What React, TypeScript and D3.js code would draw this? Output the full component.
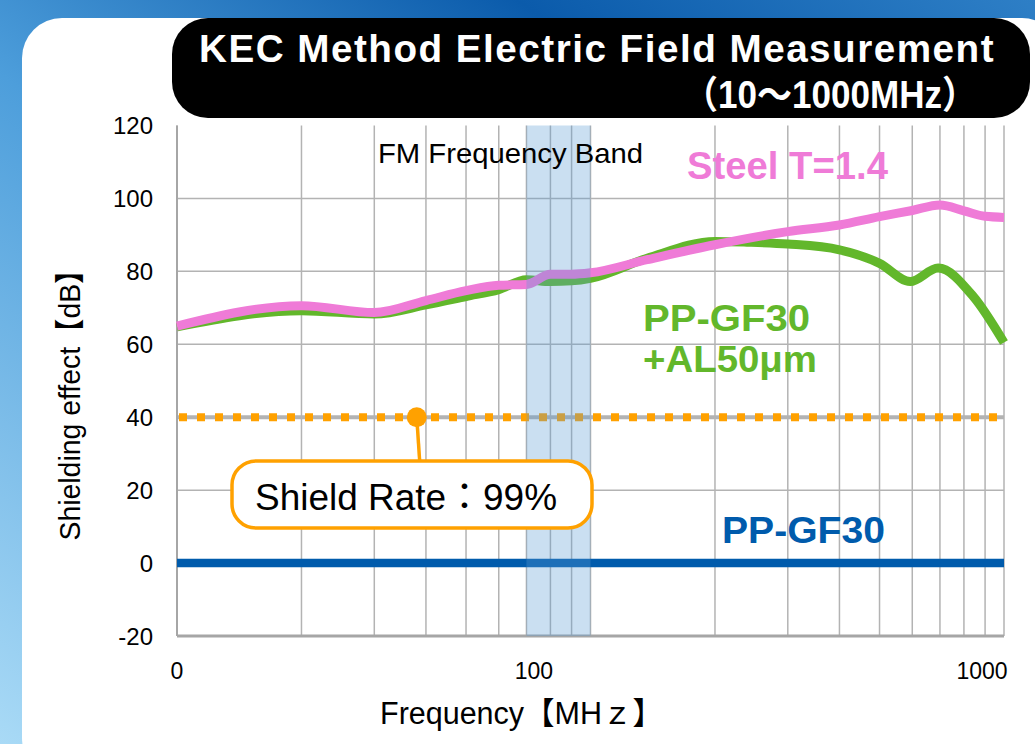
import React from 'react';
import * as d3 from 'd3';

// ---- data ----
const steelFreq = [10, 20, 30, 40, 50, 60, 70, 80, 90, 100, 137, 200, 300, 400, 500, 600, 700, 800, 900, 1000];
const steelDb = [65, 70.6, 68.7, 72, 74.7, 76.2, 76.4, 79.2, 79.2, 79.6, 83.2, 87.3, 90.9, 92.7, 95.0, 96.7, 98.2, 96.6, 95.1, 94.8];

const alFreq = [10, 20, 30, 40, 50, 60, 70, 80, 90, 100, 137, 200, 239, 300, 400, 500, 593, 693, 843, 1000];
const alDb = [64.8, 69.2, 68.3, 70.8, 73.1, 75, 77.7, 77.2, 77.4, 78.1, 83.6, 88.2, 88.0, 87.5, 85.9, 82.2, 77.2, 80.9, 73.1, 60.5];

const ppFreq = [10, 1000];
const ppDb = [0, 0];

const shieldRateDb = 40;
const shieldMarkFreq = 38;
const fmBand = [70, 100];

const yTicks = [-20, 0, 20, 40, 60, 80, 100, 120];
// the pasted tick labels sit where they sit in the picture
const xTickAt = [10, 73, 885];
const xTickText = ['0', '100', '1000'];

const COLORS = {
  steel: '#EF7BD7',
  al: '#62B72B',
  pp: '#005BAC',
  orange: '#FFA100',
  grid: '#B3B3B3',
};

const FONT = 'Liberation Sans, Arial, Noto Sans CJK JP, sans-serif';

export default function App() {
  const x = d3.scaleLog().domain([10, 1000]).range([177, 1004]);
  const y = d3.scaleLinear().domain([-20, 120]).range([636, 125.5]);

  const line = d3
    .line<[number, number]>()
    .x((d) => x(d[0]))
    .y((d) => y(d[1]))
    .curve(d3.curveMonotoneX);

  const steelPts = steelFreq.map((f, i) => [f, steelDb[i]] as [number, number]);
  const alPts = alFreq.map((f, i) => [f, alDb[i]] as [number, number]);
  const ppPts = ppFreq.map((f, i) => [f, ppDb[i]] as [number, number]);

  const xGrid = x.ticks();
  const [x0, x1] = x.range();
  const yTop = y(120);
  const yBot = y(-20);

  const markX = x(shieldMarkFreq);
  const markY = y(shieldRateDb);

  return (
    <svg
      width={1035}
      height={744}
      style={{ position: 'absolute', left: 0, top: 0, display: 'block' }}
      fontFamily={FONT}
    >
      <defs>
        <linearGradient id="bg" x1="1" y1="0" x2="0" y2="1">
          <stop offset="0" stopColor="#2E7FC6" />
          <stop offset="0.25" stopColor="#0B5BAB" />
          <stop offset="0.55" stopColor="#4D9EDB" />
          <stop offset="1" stopColor="#A9DAF6" />
        </linearGradient>
      </defs>

      {/* background */}
      <rect x={0} y={0} width={1035} height={744} fill="url(#bg)" />
      <rect x={22} y={18} width={1040} height={760} rx={40} ry={40} fill="#ffffff" />

      {/* title box */}
      <rect x={172} y={18} width={858} height={100} rx={36} ry={36} fill="#000000" />
      <text x={199} y={62} fill="#fff" fontSize={39} fontWeight="bold" letterSpacing={1.5} textLength={796} lengthAdjust="spacingAndGlyphs">
        KEC Method Electric Field Measurement
      </text>
      <text x={683} y={108} fill="#fff" fontSize={38} fontWeight="bold" textLength={294} lengthAdjust="spacingAndGlyphs">
        （10～1000MHz）
      </text>

      {/* vertical grid */}
      {xGrid.map((t) => (
        <line key={'vx' + t} x1={x(t)} x2={x(t)} y1={yTop} y2={yBot} stroke={COLORS.grid} strokeWidth={1.5} />
      ))}
      {/* horizontal grid */}
      {yTicks
        .filter((t) => t > -20 && t < 120)
        .map((t) => (
          <line
            key={'hy' + t}
            x1={x0}
            x2={x1}
            y1={y(t)}
            y2={y(t)}
            stroke={COLORS.grid}
            strokeWidth={t === shieldRateDb ? 4 : 1.5}
          />
        ))}
      {/* axes */}
      <line x1={x0} x2={x0} y1={yTop} y2={yBot} stroke="#A6A6A6" strokeWidth={2} />
      <line x1={x0} x2={x1} y1={yBot} y2={yBot} stroke="#A6A6A6" strokeWidth={3} />

      {/* y tick labels */}
      {yTicks.map((t) => (
        <text key={'yl' + t} x={153} y={y(t)} dy="0.36em" textAnchor="end" fontSize={24} fill="#000">
          {t}
        </text>
      ))}
      {/* x tick labels */}
      {xTickAt.map((f, i) => (
        <text key={'xl' + i} x={x(f)} y={679} textAnchor="middle" fontSize={23} fill="#000">
          {xTickText[i]}
        </text>
      ))}

      {/* shield rate dotted line */}
      <line
        x1={x0}
        x2={x1}
        y1={markY}
        y2={markY}
        stroke={COLORS.orange}
        strokeWidth={8}
        strokeDasharray="8 10"
        strokeDashoffset={-2}
      />

      {/* series */}
      <path d={line(ppPts) || ''} fill="none" stroke={COLORS.pp} strokeWidth={8.5} />
      <path d={line(alPts) || ''} fill="none" stroke={COLORS.al} strokeWidth={9} />
      <path d={line(steelPts) || ''} fill="none" stroke={COLORS.steel} strokeWidth={9} />

      {/* FM band */}
      <rect
        x={x(fmBand[0])}
        y={yTop}
        width={x(fmBand[1]) - x(fmBand[0])}
        height={yBot - yTop}
        fill="rgb(91,155,213)"
        fillOpacity={0.32}
      />

      {/* labels */}
      <text x={378} y={163} fontSize={28} fill="#000" textLength={265} lengthAdjust="spacingAndGlyphs">
        FM Frequency Band
      </text>
      <text x={687} y={179} fontSize={38} fontWeight="bold" fill={COLORS.steel} textLength={201} lengthAdjust="spacingAndGlyphs">
        Steel T=1.4
      </text>
      <text x={643} y={331} fontSize={37} fontWeight="bold" fill={COLORS.al} textLength={167} lengthAdjust="spacingAndGlyphs">
        PP-GF30
      </text>
      <text x={643} y={372} fontSize={37} fontWeight="bold" fill={COLORS.al} textLength={174} lengthAdjust="spacingAndGlyphs">
        +AL50μm
      </text>
      <text x={722} y={543} fontSize={37} fontWeight="bold" fill={COLORS.pp} textLength={163} lengthAdjust="spacingAndGlyphs">
        PP-GF30
      </text>

      {/* callout */}
      <line x1={markX} y1={markY} x2={markX + 3} y2={462} stroke={COLORS.orange} strokeWidth={3.5} />
      <circle cx={markX} cy={markY} r={10} fill={COLORS.orange} />
      <rect x={232} y={461} width={360} height={67} rx={24} ry={24} fill="#fff" stroke={COLORS.orange} strokeWidth={3.5} />
      <text x={255} y={510} fontSize={37} fill="#000" textLength={302} lengthAdjust="spacingAndGlyphs">
        Shield Rate：99%
      </text>

      {/* axis titles */}
      <text
        transform="translate(80,398) rotate(-90)"
        textAnchor="middle"
        fontSize={30}
        fill="#000"
        textLength={285}
        lengthAdjust="spacingAndGlyphs"
      >
        Shielding effect【dB】
      </text>
      <text x={380} y={724} fontSize={31} fill="#000" textLength={283} lengthAdjust="spacingAndGlyphs">
        Frequency【MHｚ】
      </text>
    </svg>
  );
}
